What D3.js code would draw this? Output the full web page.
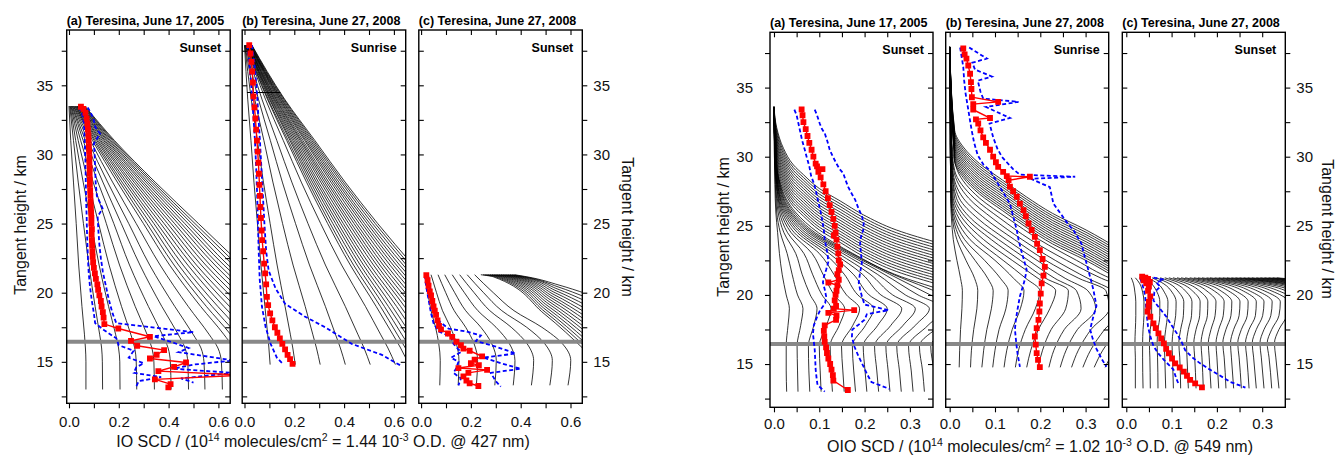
<!DOCTYPE html>
<html>
<head>
<meta charset="utf-8">
<script src="https://cdn.jsdelivr.net/npm/d3@7"></script>
<style>
  body { margin: 0; background: #fff; }
</style>
</head>
<body>
<div id="chart"></div>
<script>
// ---------- data (x = SCD, h = tangent height in km) ----------

// IO, (a) Sunset 2005 : model curves as x values at shared heights
var ioA_h = [33.5, 31, 28, 25, 22, 19, 17, 16, 15, 13];
var ioA_curves = [
  [0, .007, .018, .029, .039, .052, .062, .066, .068, .068],
  [.003, .018, .037, .058, .080, .105, .123, .131, .134, .135],
  [.005, .027, .057, .089, .121, .159, .187, .199, .204, .205],
  [.008, .037, .077, .119, .161, .211, .248, .264, .270, .272],
  [.010, .047, .097, .150, .203, .266, .313, .333, .341, .343],
  [.013, .057, .116, .180, .243, .319, .374, .398, .407, .41],
  [.015, .066, .136, .210, .285, .373, .438, .466, .477, .48],
  [.018, .076, .155, .240, .324, .425, .498, .530, .542, .546],
  [.020, .086, .175, .270, .366, .479, .562, .598, .612, .616],
  [.023, .095, .194, .299, .404, .529, .621, .660, .675, .68],
  [.026, .101, .204, .313, .422, .552, .648, .689],
  [.028, .106, .213, .327, .440, .575, .675],
  [.031, .112, .223, .341, .458, .598, .702],
  [.033, .117, .232, .354, .477, .622, .729],
  [.036, .123, .242, .368, .495, .645, .756],
  [.038, .128, .251, .382, .512, .668],
  [.041, .134, .261, .396, .531, .692],
  [.044, .140, .270, .410, .549, .715],
  [.046, .145, .280, .424, .567, .738],
  [.049, .151, .290, .438, .586, .761],
  [.051, .156, .299, .451, .603, .784],
  [.054, .162, .309, .465, .622, .808],
  [.056, .167, .318, .479, .639, .831],
  [.059, .173, .328, .493, .658],
  [.061, .178, .337, .506, .676],
  [.064, .183, .346, .520, .694]
];
var ioA_red = [[.048,33.45],[.058,33.3],[.066,33.0],[.071,32.6],[.074,32.2],[.076,31.8],[.078,31.4],[.079,31.0],[.080,30.6],[.081,30.2],[.082,29.8],[.082,29.4],[.083,29.0],[.083,28.6],[.084,28.2],[.084,27.8],[.085,27.4],[.086,27.0],[.087,26.6],[.088,26.2],[.089,25.8],[.090,25.4],[.090,25.0],[.092,24.6],[.091,24.2],[.092,23.8],[.093,23.4],[.094,23.0],[.095,22.6],[.097,22.2],[.100,21.8],[.104,21.4],[.108,21.0],[.114,20.6],[.117,20.2],[.122,19.8],[.128,19.4],[.131,19.0],[.136,18.6],[.139,18.2],[.142,17.73],[.198,17.41],[.325,16.81],[.249,16.52],[.274,16.16],[.382,15.85],[.352,15.51],[.325,15.24],[.47,14.95],[.422,14.64],[.359,14.33],[.70,14.04],[.345,13.73],[.408,13.39],[.399,13.15]];
var ioA_blueLo = [[.040,33.4],[.052,33.0],[.060,32.3],[.062,31.5],[.064,30.5],[.066,29.5],[.067,28.5],[.068,27.5],[.069,26.5],[.071,25.5],[.072,24.5],[.074,23.5],[.076,22.5],[.079,21.5],[.084,20.5],[.091,19.5],[.100,18.5],[.105,17.8],[.140,17.3],[.190,16.7],[.200,16.2],[.260,15.8],[.240,15.3],[.300,14.9],[.270,14.6],[.260,14.2],[.370,13.9],[.280,13.6],[.270,13.2]];
var ioA_blueHi = [[.075,33.4],[.085,33.1],[.098,32.6],[.105,32.0],[.125,31.5],[.100,30.8],[.103,30.0],[.105,29.0],[.107,28.0],[.112,27.0],[.135,26.1],[.115,25.5],[.118,24.5],[.122,23.5],[.128,22.5],[.136,21.5],[.148,20.5],[.160,19.5],[.175,18.5],[.190,17.8],[.500,17.15],[.340,16.85],[.400,16.5],[.480,16.0],[.440,15.7],[.660,15.1],[.500,14.8],[.420,14.5],[.660,14.2],[.450,13.8],[.500,13.5]];

// IO, (b) Sunrise 2008
var ioB_h = [37.9, 36, 34, 31, 28, 25, 22, 19, 17, 16, 14.8];
var ioB_curves = [
  [0, .006, .013, .026, .038, .052, .066, .082, .093, .098, .103],
  [.001, .013, .027, .052, .076, .103, .131, .163, .184, .194, .204],
  [.002, .020, .041, .078, .114, .153, .195, .244, .274, .289, .304],
  [.004, .028, .056, .104, .152, .205, .261, .325, .365, .385, .405],
  [.005, .035, .070, .130, .190, .255, .325, .405, .455, .480, .505],
  [.006, .042, .084, .156, .228, .306, .390, .486, .546, .576, .606],
  [.007, .046, .092, .170, .249, .334, .425, .529, .595, .627, .66],
  [.008, .048, .095, .176, .257, .344, .438, .546, .613, .646, .68],
  [.010, .051, .100, .183, .265, .355, .452, .562, .631, .666],
  [.011, .054, .103, .188, .273, .366, .465, .578, .649, .68],
  [.012, .056, .107, .194, .281, .376, .478, .594, .667],
  [.013, .058, .110, .200, .289, .387, .491, .611, .685],
  [.014, .060, .114, .206, .297, .397, .504, .627, .703],
  [.016, .063, .118, .212, .306, .408, .518, .643, .72],
  [.017, .065, .121, .218, .314, .419, .531, .659],
  [.018, .067, .125, .224, .322, .429, .544, .676],
  [.019, .069, .128, .229, .330, .440, .557, .692],
  [.020, .072, .132, .235, .338, .450, .570, .708],
  [.022, .075, .136, .242, .347, .461, .584, .724],
  [.023, .077, .140, .247, .355, .472, .597, .741],
  [.024, .079, .143, .253, .363, .482, .610, .757],
  [.025, .081, .147, .259, .371, .493, .623, .773],
  [.026, .083, .150, .265, .379, .503, .637, .789],
  [.028, .086, .154, .271, .388, .514, .650],
  [.029, .088, .158, .277, .396, .525, .663],
  [.030, .091, .161, .283, .404, .535, .676]
];
var ioB_bar = [[.01, 34.48], [.144, 34.48]];
var ioB_red = [[.019,37.9],[.024,37.3],[.028,36.7],[.031,36.0],[.034,35.2],[.036,34.2],[.040,33.4],[.044,32.6],[.047,31.8],[.050,31.0],[.053,30.2],[.056,29.4],[.058,28.6],[.060,27.8],[.062,27.0],[.064,26.2],[.066,25.4],[.069,24.5],[.071,23.8],[.075,23.0],[.079,22.1],[.083,21.4],[.087,20.6],[.090,19.7],[.095,19.1],[.103,18.5],[.112,18.0],[.122,17.5],[.132,17.1],[.142,16.7],[.152,16.3],[.163,15.9],[.173,15.5],[.183,15.2],[.193,14.85]];
var ioB_blueLo = [[.012,37.9],[.020,36.5],[.027,35],[.035,33],[.042,31],[.047,29],[.051,27],[.054,25],[.057,23],[.061,21],[.070,19],[.085,17.5],[.105,16.3],[.130,15.3],[.157,14.8]];
var ioB_blueHi = [[.030,37.9],[.040,36.5],[.048,35],[.055,33],[.062,31],[.068,29],[.074,27],[.080,25],[.087,23],[.097,21.6],[.125,20.3],[.163,19.2],[.240,18.3],[.324,17.5],[.431,16.3],[.552,15.5],[.600,15.0],[.625,14.76]];

// IO, (c) Sunset 2008
var ioC_h = [21.3, 20, 18.7, 17.5, 16.3, 15.1, 13.3];
var ioC_curves = [
  [.015, .027, .040, .058, .071, .077, .075],
  [.040, .062, .086, .118, .142, .152, .149],
  [.068, .099, .133, .179, .213, .227, .222],
  [.095, .135, .179, .240, .284, .302, .296],
  [.125, .174, .228, .301, .355, .377, .370],
  [.155, .213, .276, .362, .426, .452, .443],
  [.185, .251, .324, .424, .497, .527, .517],
  [.215, .290, .373, .485, .568, .601, .590]
];
var ioC_outer = [
  [[.240,21.3],[.290,21.15],[.494,18.48],[.66,15.8]],
  [[.249,21.3],[.299,21.15],[.498,18.61],[.66,16.08]],
  [[.258,21.3],[.308,21.15],[.502,18.75],[.66,16.35]],
  [[.267,21.3],[.317,21.15],[.506,18.89],[.66,16.63]],
  [[.276,21.3],[.326,21.15],[.510,19.03],[.66,16.91]],
  [[.285,21.3],[.335,21.15],[.514,19.17],[.66,17.19]],
  [[.294,21.3],[.344,21.15],[.518,19.31],[.66,17.46]],
  [[.303,21.3],[.353,21.15],[.522,19.45],[.66,17.74]],
  [[.312,21.3],[.362,21.15],[.526,19.59],[.66,18.02]],
  [[.321,21.3],[.371,21.15],[.530,19.72],[.66,18.29]],
  [[.330,21.3],[.380,21.15],[.534,19.86],[.66,18.57]],
  [[.339,21.3],[.389,21.15],[.538,20.00],[.66,18.85]],
  [[.348,21.3],[.398,21.15],[.542,20.14],[.66,19.12]],
  [[.357,21.3],[.407,21.15],[.546,20.28],[.66,19.40]],
  [[.366,21.3],[.416,21.15],[.550,20.42],[.66,19.68]],
  [[.375,21.3],[.425,21.15],[.554,20.55],[.66,19.95]]
];
var ioC_red = [[.021,21.27],[.026,20.9],[.030,20.5],[.035,20.1],[.040,19.8],[.045,19.4],[.050,19.0],[.055,18.7],[.060,18.4],[.066,18.0],[.072,17.6],[.080,17.35],[.108,17.05],[.125,16.8],[.142,16.45],[.160,16.2],[.170,15.95],[.195,15.8],[.245,15.4],[.215,15.15],[.200,14.9],[.232,14.75],[.150,14.55],[.265,14.42],[.190,14.2],[.170,13.95],[.182,13.65],[.195,13.45],[.230,13.25]];
var ioC_blueLo = [[.015,21.27],[.020,20.5],[.030,19.5],[.040,18.5],[.050,17.8],[.070,17.2],[.120,16.8],[.130,16.3],[.160,15.7],[.120,15.3],[.150,15.0],[.140,14.5],[.130,14.2],[.160,13.8],[.150,13.3]];
var ioC_blueHi = [[.028,21.27],[.035,20.5],[.045,19.5],[.055,18.7],[.075,17.9],[.110,17.4],[.180,17.2],[.240,16.9],[.220,16.5],[.300,16.1],[.380,15.6],[.250,15.3],[.320,14.9],[.400,14.5],[.280,14.2],[.300,13.6],[.320,13.2]];

// OIO, (a) Sunset 2005
var oioA_h = [33.6, 30, 28, 26, 24.5, 23, 21.5, 20, 19, 17.8, 16.3, 14.5, 13];
var oioA_curves = [
  [0, .001, .002, .004, .008, .012, .018, .027, .034, .031, .027, .027, .028],
  [0, .001, .003, .006, .014, .029, .040, .052, .064, .059, .051, .052, .053],
  [0, .002, .004, .009, .022, .048, .062, .080, .095, .088, .076, .077, .079],
  [0, .002, .005, .012, .030, .066, .085, .106, .126, .116, .100, .102, .104],
  [0, .002, .006, .015, .038, .084, .108, .133, .156, .144, .124, .126, .129],
  [0, .002, .006, .018, .045, .100, .132, .160, .189, .174, .149, .152, .155],
  [0, .002, .007, .021, .052, .112, .155, .185, .220, .202, .173, .176, .180],
  [0, .003, .008, .024, .058, .122, .175, .210, .250, .229, .197, .201, .205],
  [0, .003, .008, .027, .064, .132, .195, .236, .282, .258, .222, .227, .231],
  [0, .003, .009, .030, .070, .142, .212, .262, .312, .285, .247, .252, .256],
  [0, .003, .010, .033, .076, .152, .228, .290, .343, .312, .271, .277, .281],
  [0, .003, .011, .036, .081, .160, .243, .318, .375, .340, .297, .303, .307],
  [0, .004, .012, .039, .086, .166, .255, .345, .405, .367, .321, .328, .332],
  [0, .004, .013, .043, .091, .171, .262, .375, .436, .394, .346, .353, .357],
  [0, .004, .014, .047, .098, .174, .266, .400, .467, .421, .372, .379, .383]
];
// outer curves that leave through the right edge: shared x, own heights
var oioA_outerX = [0, .006, .021, .043, .065, .10, .146, .197, .27, .37];
var oioA_outerH = [
  [33.6, 29.1, 27.6, 26.4, 25.7, 24.7, 23.8, 22.8, 21.7, 20.7],
  [33.6, 29.3, 27.8, 26.6, 25.9, 24.9, 24.0, 23.0, 21.9, 20.9],
  [33.6, 29.5, 28.0, 26.8, 26.1, 25.1, 24.2, 23.2, 22.1, 21.1],
  [33.6, 29.7, 28.2, 27.0, 26.3, 25.3, 24.4, 23.4, 22.3, 21.3],
  [33.6, 29.9, 28.4, 27.2, 26.5, 25.5, 24.6, 23.6, 22.5, 21.5],
  [33.6, 30.1, 28.6, 27.4, 26.7, 25.7, 24.8, 23.8, 22.7, 21.7],
  [33.6, 30.3, 28.8, 27.6, 26.9, 25.9, 25.0, 24.0, 22.9, 21.9],
  [33.6, 30.5, 29.0, 27.8, 27.1, 26.1, 25.2, 24.2, 23.1, 22.1],
  [33.6, 30.7, 29.2, 28.0, 27.3, 26.3, 25.4, 24.4, 23.3, 22.3],
  [33.6, 30.9, 29.4, 28.2, 27.5, 26.5, 25.6, 24.6, 23.5, 22.5],
  [33.6, 31.1, 29.6, 28.4, 27.7, 26.7, 25.8, 24.8, 23.7, 22.7],
  [33.6, 31.3, 29.8, 28.6, 27.9, 26.9, 26.0, 25.0, 23.9, 22.9],
  [33.6, 31.5, 30.0, 28.8, 28.1, 27.1, 26.2, 25.2, 24.1, 23.1],
  [33.6, 31.7, 30.2, 29.0, 28.3, 27.3, 26.4, 25.4, 24.3, 23.3],
  [33.6, 31.9, 30.4, 29.2, 28.5, 27.5, 26.6, 25.6, 24.5, 23.5],
  [33.6, 32.1, 30.6, 29.4, 28.7, 27.7, 26.8, 25.8, 24.7, 23.7]
];
var oioA_red = [[.061,33.42],[.063,33.0],[.065,32.5],[.070,32.0],[.074,31.5],[.078,31.0],[.083,30.5],[.087,30.0],[.092,29.5],[.095,29.3],[.107,29.1],[.098,28.9],[.103,28.5],[.109,28.0],[.114,27.5],[.119,27.0],[.123,26.5],[.127,26.0],[.131,25.5],[.134,25.0],[.136,24.5],[.132,24.3],[.138,24.0],[.140,23.5],[.142,23.0],[.143,22.5],[.146,22.2],[.143,21.8],[.140,21.5],[.143,21.1],[.120,20.9],[.140,20.7],[.138,20.3],[.136,20.0],[.134,19.6],[.137,19.2],[.132,19.0],[.177,18.9],[.120,18.7],[.138,18.5],[.137,18.2],[.112,17.8],[.110,17.4],[.111,17.0],[.112,16.6],[.115,16.2],[.117,15.8],[.120,15.4],[.124,15.0],[.127,14.6],[.130,14.2],[.131,13.8],[.163,13.12]];
var oioA_blueLo = [[.045,33.4],[.050,33.0],[.054,32.4],[.058,31.8],[.062,31.2],[.068,30.5],[.072,30.0],[.078,29.3],[.082,28.6],[.089,28.0],[.094,27.3],[.098,26.7],[.103,26.0],[.107,25.3],[.110,24.7],[.112,24.0],[.115,23.5],[.118,23.0],[.120,22.4],[.115,21.8],[.110,21.3],[.108,20.9],[.112,20.4],[.115,19.9],[.113,19.4],[.102,18.9],[.095,18.4],[.088,17.8],[.086,17.2],[.088,16.6],[.090,16.0],[.091,15.3],[.092,14.6],[.094,14.0],[.096,13.5],[.112,13.0]];
var oioA_blueHi = [[.090,33.4],[.095,33.0],[.101,32.4],[.106,32.0],[.112,31.7],[.118,31.1],[.123,30.5],[.130,30.0],[.138,29.5],[.145,29.1],[.153,28.8],[.158,28.3],[.164,27.8],[.172,27.3],[.179,26.9],[.186,26.3],[.194,25.7],[.198,25.2],[.197,24.7],[.192,24.2],[.190,23.7],[.192,23.0],[.194,22.3],[.190,21.6],[.187,20.9],[.190,20.4],[.194,19.9],[.200,19.3],[.253,18.9],[.205,18.6],[.200,18.2],[.185,17.8],[.173,17.5],[.172,17.0],[.177,16.3],[.186,15.6],[.198,14.8],[.205,14.3],[.215,13.7],[.255,13.2]];

// OIO, (b) Sunrise 2008
var oioB_h = [37.94, 34, 31, 29, 27, 25.5, 24, 22.5, 21.2, 20.3, 19, 17.5, 16, 14.76];
var oioB_curves = [
  [0, .001, .001, .002, .002, .004, .008, .016, .024, .028, .027, .024, .022, .021],
  [0, .001, .001, .002, .003, .006, .016, .036, .055, .062, .060, .053, .048, .046],
  [0, .001, .001, .002, .003, .008, .024, .056, .084, .096, .092, .082, .075, .071],
  [0, .001, .002, .003, .004, .011, .033, .077, .112, .129, .124, .109, .100, .095],
  [0, .001, .002, .003, .005, .015, .045, .100, .141, .164, .156, .138, .126, .120],
  [0, .001, .002, .003, .006, .021, .060, .118, .168, .199, .189, .167, .152, .145],
  [0, .001, .002, .004, .008, .029, .075, .138, .195, .234, .221, .196, .179, .170],
  [0, .001, .003, .005, .011, .038, .092, .156, .212, .262, .256, .224, .205, .195],
  [0, .001, .003, .005, .015, .048, .108, .174, .232, .280, .290, .253, .230, .219],
  [0, .002, .003, .006, .021, .063, .125, .193, .255, .305, .322, .282, .257, .244],
  [0, .002, .004, .007, .030, .079, .143, .212, .285, .345, .352, .312, .284, .269],
  [0, .002, .004, .009, .042, .096, .160, .233, .305, .360, .382, .342, .311, .294],
  [0, .002, .004, .011, .054, .113, .178, .258, .335, .400, .415, .372, .338, .319],
  [0, .002, .005, .017, .066, .130, .198, .280, .355, .430, .446, .401, .364, .343]
];
var oioB_outerX = [0, .011, .03, .066, .117, .169, .227, .301, .37];
var oioB_outerH = [
  [37.94, 29.69, 28.49, 27.29, 26.09, 24.89, 23.69, 22.49, 21.19],
  [37.94, 29.86, 28.66, 27.46, 26.26, 25.06, 23.86, 22.66, 21.36],
  [37.94, 30.03, 28.83, 27.63, 26.43, 25.23, 24.03, 22.83, 21.53],
  [37.94, 30.20, 29.00, 27.80, 26.60, 25.40, 24.20, 23.00, 21.70],
  [37.94, 30.37, 29.17, 27.97, 26.77, 25.57, 24.37, 23.17, 21.87],
  [37.94, 30.54, 29.34, 28.14, 26.94, 25.74, 24.54, 23.34, 22.04],
  [37.94, 30.71, 29.51, 28.31, 27.11, 25.91, 24.71, 23.51, 22.21],
  [37.94, 30.88, 29.68, 28.48, 27.28, 26.08, 24.88, 23.68, 22.38],
  [37.94, 31.05, 29.85, 28.65, 27.45, 26.25, 25.05, 23.85, 22.55],
  [37.94, 31.22, 30.02, 28.82, 27.62, 26.42, 25.22, 24.02, 22.72],
  [37.94, 31.39, 30.19, 28.99, 27.79, 26.59, 25.39, 24.19, 22.89],
  [37.94, 31.56, 30.36, 29.16, 27.96, 26.76, 25.56, 24.36, 23.06],
  [37.94, 31.73, 30.53, 29.33, 28.13, 26.93, 25.73, 24.53, 23.23],
  [37.94, 31.90, 30.70, 29.50, 28.30, 27.10, 25.90, 24.70, 23.40]
];
var oioB_red = [[.030,37.83],[.033,37.4],[.037,37.1],[.041,36.6],[.045,36.0],[.047,35.4],[.048,34.9],[.049,34.3],[.107,33.97],[.052,33.8],[.052,33.4],[.089,32.8],[.058,32.7],[.063,32.4],[.068,31.9],[.074,31.4],[.080,31.0],[.089,30.5],[.096,30.0],[.102,29.6],[.107,29.27],[.118,28.9],[.126,28.6],[.177,28.55],[.130,28.3],[.133,27.83],[.140,27.5],[.148,27.1],[.155,26.6],[.163,26.14],[.168,25.7],[.174,25.17],[.181,24.7],[.188,24.2],[.193,23.7],[.199,23.24],[.205,22.6],[.210,22.03],[.207,21.4],[.203,20.83],[.201,20.1],[.199,19.38],[.198,18.8],[.196,18.2],[.192,17.6],[.188,16.99],[.190,16.4],[.192,15.79],[.195,15.3],[.199,14.78]];
var oioB_blueLo = [[.023,37.9],[.026,37.3],[.030,36.5],[.032,35.5],[.035,34.6],[.040,33.6],[.044,32.8],[.048,32.0],[.054,31.0],[.062,30.1],[.075,29.4],[.089,29.0],[.100,28.4],[.111,27.8],[.122,27.2],[.133,26.6],[.140,25.7],[.148,24.7],[.152,24.0],[.158,23.2],[.165,22.4],[.170,21.8],[.165,21.0],[.155,19.9],[.150,19.0],[.146,18.2],[.144,17.5],[.147,16.5],[.150,15.7],[.155,14.8]];
var oioB_blueHi = [[.043,37.9],[.082,37.1],[.050,36.8],[.056,36.3],[.093,35.8],[.062,35.5],[.068,34.7],[.074,34.2],[.152,33.97],[.080,33.6],[.133,32.8],[.088,32.4],[.096,31.4],[.105,30.6],[.115,30.0],[.126,29.6],[.140,29.1],[.155,28.7],[.277,28.55],[.180,28.4],[.200,28.1],[.221,27.8],[.225,27.2],[.229,26.6],[.240,26.1],[.251,25.6],[.262,25.1],[.273,24.7],[.291,23.7],[.296,23.0],[.302,22.3],[.310,21.3],[.317,20.4],[.324,19.2],[.316,18.3],[.310,17.5],[.316,16.8],[.324,16.1],[.335,15.4],[.346,14.8]];

// OIO, (c) Sunset 2008
var oioC_h = [21.24, 20.8, 20.2, 19.5, 18.5, 17.5, 16.5, 15.5, 13.24];
var oioC_curves = [
  [.011, .016, .019, .021, .021, .020, .019, .020, .020],
  [.020, .030, .036, .039, .039, .037, .036, .036, .037],
  [.029, .042, .051, .056, .056, .053, .051, .052, .053],
  [.039, .056, .068, .074, .074, .070, .068, .069, .070],
  [.048, .070, .084, .092, .091, .087, .084, .085, .087],
  [.057, .083, .101, .110, .109, .104, .101, .102, .104],
  [.066, .096, .116, .127, .126, .120, .116, .118, .120],
  [.075, .110, .133, .145, .144, .137, .133, .134, .137],
  [.085, .123, .149, .163, .162, .154, .149, .151, .154],
  [.094, .136, .165, .180, .179, .170, .165, .167, .170],
  [.103, .150, .181, .198, .196, .187, .181, .183, .187],
  [.112, .163, .198, .216, .214, .204, .198, .200, .204],
  [.121, .176, .213, .233, .231, .220, .213, .216, .220],
  [.130, .190, .230, .251, .249, .237, .230, .232, .237],
  [.140, .203, .246, .269, .267, .254, .246, .249, .254],
  [.149, .217, .263, .287, .285, .271, .263, .266, .271],
  [.158, .230, .278, .304, .301, .287, .278, .281, .287],
  [.167, .243, .295, .322, .319, .304, .295, .298, .304],
  [.177, .257, .311, .340, .337, .321, .311, .315, .321],
  [.185, .270, .327, .357, .354, .337, .327, .330, .337],
  [.195, .283, .343, .375, .372],
  [.204, .297, .360],
  [.213, .310, .375],
  [.222, .323, .392],
  [.232, .337, .408],
  [.241, .350, .425],
  [.250, .363],
  [.259, .377],
  [.268, .390],
  [.277, .403],
  [.287, .417],
  [.296, .430],
  [.305, .443],
  [.314, .457],
  [.323, .470],
  [.332, .483]
];
var oioC_red = [[.035,21.32],[.042,21.25],[.048,21.15],[.038,21.05],[.052,20.95],[.044,20.84],[.050,20.6],[.048,20.3],[.053,19.9],[.050,19.5],[.049,19.15],[.047,18.8],[.053,18.42],[.060,17.94],[.065,17.6],[.071,17.22],[.077,16.85],[.083,16.5],[.088,16.1],[.094,15.78],[.101,15.4],[.108,15.05],[.118,14.75],[.127,14.45],[.134,14.15],[.141,13.85],[.152,13.6],[.167,13.31]];
var oioC_blueLo = [[.031,21.2],[.036,20.7],[.040,20.2],[.042,19.8],[.044,19.0],[.046,18.3],[.048,17.7],[.053,17.0],[.060,16.3],[.070,15.8],[.083,15.3],[.095,14.9],[.104,14.6],[.110,14.0],[.116,13.5]];
var oioC_blueHi = [[.060,21.25],[.083,21.1],[.066,20.9],[.075,20.6],[.062,20.2],[.060,19.6],[.072,19.1],[.089,18.4],[.100,17.8],[.112,17.2],[.122,16.6],[.130,16.0],[.145,15.5],[.163,15.05],[.182,14.65],[.200,14.3],[.215,14.0],[.230,13.7],[.263,13.3]];

// axis ticks and labels
var grayLevel = 16.45;
var yMajor = [15, 20, 25, 30, 35];
var yMinor = [12.5, 17.5, 22.5, 27.5, 32.5, 37.5];
var ioMajor = [0, 0.2, 0.4, 0.6];
var ioMinor = [0.1, 0.3, 0.5];
var oioMajor = [0, 0.1, 0.2, 0.3];
var oioMinor = [0.05, 0.15, 0.25];
var titles = ["(a) Teresina, June 17, 2005", "(b) Teresina, June 27, 2008", "(c) Teresina, June 27, 2008"];
var tags = ["Sunset", "Sunrise", "Sunset"];

// ---------- drawing ----------
var FONT = "'Liberation Sans', Arial, Helvetica, sans-serif";
var svg = d3.select("#chart").append("svg")
    .attr("width", 1338)
    .attr("height", 456)
    .style("font-family", FONT);

var yLeft = d3.scaleLinear().domain([12, 39]).range([403.3, 30]);
var yRight = d3.scaleLinear().domain([11.87, 39]).range([407.3, 32.3]);

function onGrid(curves, hs) {
  return curves.map(function(c) { return c.map(function(x, i) { return [x, hs[i]]; }); });
}
function onSharedX(hLists, xs) {
  return hLists.map(function(hl) { return hl.map(function(h, i) { return [xs[i], h]; }); });
}

function drawPanel(p, idx) {
  var y = p.y;
  var top = y.range()[1], bot = y.range()[0];
  var x = d3.scaleLinear().domain(p.xDomain).range([p.left, p.left + p.w]);
  var g = svg.append("g");

  svg.append("clipPath").attr("id", "clip" + idx)
    .append("rect")
      .attr("x", p.left).attr("y", top)
      .attr("width", p.w).attr("height", bot - top);

  var plot = g.append("g").attr("clip-path", "url(#clip" + idx + ")");

  var smooth = d3.line()
    .x(function(d) { return x(d[0]); })
    .y(function(d) { return y(d[1]); })
    .curve(d3.curveMonotoneY);
  var straight = d3.line()
    .x(function(d) { return x(d[0]); })
    .y(function(d) { return y(d[1]); });

  // model curves
  plot.append("g").selectAll("path")
    .data(p.curves)
    .enter().append("path")
      .attr("d", smooth)
      .attr("fill", "none")
      .attr("stroke", "#000")
      .attr("stroke-width", 0.8);

  if (p.bar) {
    plot.append("path").attr("d", straight(p.bar))
      .attr("fill", "none").attr("stroke", "#000").attr("stroke-width", 1.2);
  }

  // gray reference level
  plot.append("line")
    .attr("x1", p.left).attr("x2", p.left + p.w)
    .attr("y1", y(grayLevel)).attr("y2", y(grayLevel))
    .attr("stroke", "#888").attr("stroke-width", 4);

  // error bounds
  plot.append("g").selectAll("path")
    .data(p.blue)
    .enter().append("path")
      .attr("d", straight)
      .attr("fill", "none")
      .attr("stroke", "#0000ff")
      .attr("stroke-width", 1.8)
      .attr("stroke-dasharray", "4,2.5");

  // measured SCDs
  plot.append("path").attr("d", straight(p.red))
    .attr("fill", "none").attr("stroke", "#ff0000").attr("stroke-width", 1.4);
  plot.append("g").selectAll("path")
    .data(p.red)
    .enter().append("path")
      .attr("transform", function(d) { return "translate(" + x(d[0]) + "," + y(d[1]) + ")"; })
      .attr("d", d3.symbol().type(d3.symbolSquare).size(34))
      .attr("fill", "#ff0000");

  // frame
  g.append("rect")
    .attr("x", p.left).attr("y", top)
    .attr("width", p.w).attr("height", bot - top)
    .attr("fill", "none").attr("stroke", "#000").attr("stroke-width", 1.4);

  // axes
  var fmt = d3.format(".1f");
  var axes = g.append("g");
  axes.append("g").attr("transform", "translate(0," + bot + ")")
    .call(d3.axisBottom(x).tickValues(p.xMajor).tickSize(5).tickPadding(p.xPad).tickFormat(fmt));
  axes.append("g").attr("transform", "translate(0," + bot + ")")
    .call(d3.axisBottom(x).tickValues(p.xMinor).tickSize(5).tickFormat(""));
  axes.append("g").attr("transform", "translate(0," + top + ")")
    .call(d3.axisTop(x).tickValues(p.xMajor.concat(p.xMinor)).tickSize(-5).tickFormat(""));

  var yAll = yMajor.concat(yMinor);
  if (idx % 3 === 0) {
    axes.append("g").attr("transform", "translate(" + p.left + ",0)")
      .call(d3.axisLeft(y).tickValues(yMajor).tickSize(5).tickPadding(p.yPadL).tickFormat(d3.format("d")));
    axes.append("g").attr("transform", "translate(" + p.left + ",0)")
      .call(d3.axisLeft(y).tickValues(yMinor).tickSize(5).tickFormat(""));
  } else {
    axes.append("g").attr("transform", "translate(" + p.left + ",0)")
      .call(d3.axisLeft(y).tickValues(yAll).tickSize(-5).tickFormat(""));
  }
  if (idx % 3 === 2) {
    axes.append("g").attr("transform", "translate(" + (p.left + p.w) + ",0)")
      .call(d3.axisRight(y).tickValues(yMajor).tickSize(5).tickPadding(6).tickFormat(d3.format("d")));
    axes.append("g").attr("transform", "translate(" + (p.left + p.w) + ",0)")
      .call(d3.axisRight(y).tickValues(yMinor).tickSize(5).tickFormat(""));
  } else {
    axes.append("g").attr("transform", "translate(" + (p.left + p.w) + ",0)")
      .call(d3.axisRight(y).tickValues(yAll).tickSize(-5).tickFormat(""));
  }
  axes.selectAll(".domain").remove();
  axes.selectAll(".tick line").attr("stroke", "#000").attr("stroke-width", 1.1);
  axes.selectAll(".tick text")
    .attr("font-size", 15).attr("font-family", FONT).attr("fill", "#111");

  // panel title and tag
  g.append("text")
    .attr("x", p.left).attr("y", top - 5)
    .attr("font-size", 12.5).attr("font-weight", "bold")
    .text(titles[idx % 3]);
  g.append("text")
    .attr("x", p.left + p.w - 9).attr("y", top + 22)
    .attr("text-anchor", "end")
    .attr("font-size", 12.5).attr("font-weight", "bold")
    .text(tags[idx % 3]);
}

var ioDom = [-0.0092, 0.6474];
var oioDom = [-0.0088, 0.351];

var panels = [
  { left: 66.7, w: 163.5, y: yLeft, xDomain: ioDom, xMajor: ioMajor, xMinor: ioMinor, xPad: 8, yPadL: 8.5,
    curves: onGrid(ioA_curves, ioA_h), red: ioA_red, blue: [ioA_blueLo, ioA_blueHi] },
  { left: 242.2, w: 163.5, y: yLeft, xDomain: ioDom, xMajor: ioMajor, xMinor: ioMinor, xPad: 8,
    curves: onGrid(ioB_curves, ioB_h), bar: ioB_bar, red: ioB_red, blue: [ioB_blueLo, ioB_blueHi] },
  { left: 418.8, w: 163.5, y: yLeft, xDomain: ioDom, xMajor: ioMajor, xMinor: ioMinor, xPad: 8,
    curves: onGrid(ioC_curves, ioC_h).concat(ioC_outer), red: ioC_red, blue: [ioC_blueLo, ioC_blueHi] },
  { left: 770, w: 163, y: yRight, xDomain: oioDom, xMajor: oioMajor, xMinor: oioMinor, xPad: 6, yPadL: 12,
    curves: onGrid(oioA_curves, oioA_h).concat(onSharedX(oioA_outerH, oioA_outerX)), red: oioA_red, blue: [oioA_blueLo, oioA_blueHi] },
  { left: 945.7, w: 163, y: yRight, xDomain: oioDom, xMajor: oioMajor, xMinor: oioMinor, xPad: 6,
    curves: onGrid(oioB_curves, oioB_h).concat(onSharedX(oioB_outerH, oioB_outerX)), red: oioB_red, blue: [oioB_blueLo, oioB_blueHi] },
  { left: 1122.3, w: 163, y: yRight, xDomain: oioDom, xMajor: oioMajor, xMinor: oioMinor, xPad: 6,
    curves: onGrid(oioC_curves, oioC_h), red: oioC_red, blue: [oioC_blueLo, oioC_blueHi] }
];

panels.forEach(drawPanel);

// axis titles
function xTitle(cx, cy, species, od, nm) {
  var t = svg.append("text")
    .attr("x", cx).attr("y", cy)
    .attr("text-anchor", "middle")
    .attr("font-size", 16)
    .attr("fill", "#111");
  t.append("tspan").text(species + " SCD / (10");
  t.append("tspan").attr("dy", -6).attr("font-size", 10.5).text("14");
  t.append("tspan").attr("dy", 6).text(" molecules/cm");
  t.append("tspan").attr("dy", -6).attr("font-size", 10.5).text("2");
  t.append("tspan").attr("dy", 6).text(" = " + od + " 10");
  t.append("tspan").attr("dy", -6).attr("font-size", 10.5).text("-3");
  t.append("tspan").attr("dy", 6).text(" O.D. @ " + nm + " nm)");
}
xTitle(323, 447, "IO", "1.44", "427");
xTitle(1040, 452, "OIO", "1.02", "549");

function yTitle(cx, cy, rot) {
  svg.append("text")
    .attr("transform", "translate(" + cx + "," + cy + ") rotate(" + rot + ")")
    .attr("text-anchor", "middle")
    .attr("font-size", 16)
    .attr("fill", "#111")
    .text("Tangent height / km");
}
yTitle(26, 225, -90);
yTitle(622, 227, 90);
yTitle(729, 227, -90);
yTitle(1322, 229, 90);
</script>
</body>
</html>
